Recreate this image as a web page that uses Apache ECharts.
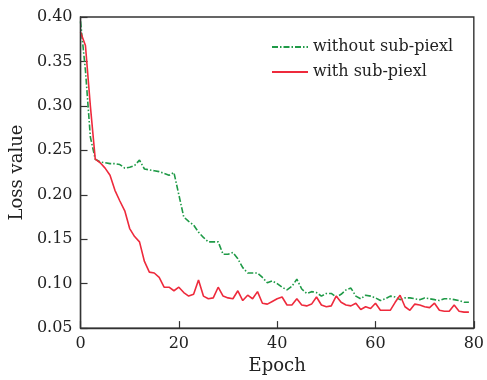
<!DOCTYPE html>
<html>
<head>
<meta charset="utf-8">
<script src="https://cdn.jsdelivr.net/npm/echarts@6/dist/echarts.min.js"></script>
<style>html,body{margin:0;padding:0;background:#fff}#c{width:487px;height:380px}</style>
</head>
<body>
<div id="c"></div>
<script>
const epochs = Array.from({length: 80}, (_, i) => i);
const withoutSub = [0.395,0.34,0.265,0.240,0.237,0.236,0.235,0.235,0.234,0.230,
0.231,0.233,0.239,0.229,0.228,0.227,0.226,0.224,0.222,0.225,
0.200,0.175,0.170,0.166,0.158,0.152,0.147,0.147,0.147,0.133,
0.133,0.135,0.128,0.118,0.112,0.112,0.112,0.107,0.101,0.103,
0.100,0.096,0.093,0.097,0.105,0.094,0.089,0.091,0.090,0.086,
0.089,0.089,0.085,0.088,0.093,0.095,0.086,0.083,0.087,0.086,
0.084,0.081,0.083,0.086,0.085,0.082,0.084,0.084,0.083,0.082,
0.084,0.083,0.082,0.081,0.083,0.083,0.082,0.081,0.079,0.079];
const withSub = [0.383,0.368,0.300,0.240,0.236,0.230,0.222,0.205,0.193,0.182,
0.162,0.153,0.147,0.125,0.113,0.112,0.107,0.096,0.096,0.092,
0.096,0.090,0.086,0.088,0.104,0.086,0.083,0.084,0.096,0.086,
0.084,0.083,0.092,0.081,0.087,0.083,0.091,0.078,0.077,0.080,
0.083,0.085,0.076,0.076,0.083,0.076,0.075,0.077,0.085,0.076,
0.074,0.075,0.086,0.079,0.076,0.075,0.078,0.071,0.074,0.072,
0.078,0.070,0.070,0.070,0.079,0.087,0.074,0.070,0.077,0.076,
0.074,0.073,0.078,0.070,0.069,0.069,0.076,0.069,0.068,0.068];
const seriesNames = ['without sub-piexl', 'with sub-piexl'];
const xTitle = 'Epoch';
const yTitle = 'Loss value';

const font = 'DejaVu Serif';
const axisColor = '#333';
const chart = echarts.init(document.getElementById('c'), null, {renderer: 'canvas'});
chart.setOption({
  animation: false,
  backgroundColor: '#fff',
  grid: {left: 79, right: 11, top: 17, bottom: 47, show: true, borderColor: axisColor, borderWidth: 1.4, backgroundColor: 'rgba(0,0,0,0)', z: 10},
  legend: {
    left: 266, top: 34, orient: 'vertical', itemWidth: 36, itemHeight: 14, itemGap: 9,
    itemStyle: {opacity: 0},
    textStyle: {fontFamily: font, fontSize: 16, color: '#222', lineHeight: 16},
    data: seriesNames
  },
  xAxis: {
    type: 'value', min: 0, max: 80, interval: 20,
    name: xTitle, nameLocation: 'middle', nameGap: 24,
    nameTextStyle: {fontFamily: font, fontSize: 18, color: '#222'},
    axisLine: {show: true, onZero: false, lineStyle: {color: axisColor, width: 1.3}},
    axisTick: {inside: true, length: 7, lineStyle: {color: axisColor, width: 1.2}},
    axisLabel: {fontFamily: font, fontSize: 16, color: '#222', margin: 8},
    splitLine: {show: false}
  },
  yAxis: {
    type: 'value', min: 0.05, max: 0.40, interval: 0.05,
    name: yTitle, nameLocation: 'middle', nameGap: 52,
    nameTextStyle: {fontFamily: font, fontSize: 18, color: '#222'},
    axisLine: {show: true, onZero: false, lineStyle: {color: axisColor, width: 1.3}},
    axisTick: {inside: true, length: 7, lineStyle: {color: axisColor, width: 1.2}},
    axisLabel: {fontFamily: font, fontSize: 16, color: '#222', margin: 8, formatter: v => v.toFixed(2)},
    splitLine: {show: false}
  },
  series: [
    {name: seriesNames[0], type: 'line', symbol: 'none', data: epochs.map((e, i) => [e, withoutSub[i]]),
     lineStyle: {color: '#1f9a47', width: 1.6, type: [6, 2, 1.5, 2]}, itemStyle: {color: '#1f9a47'}, z: 2},
    {name: seriesNames[1], type: 'line', symbol: 'none', data: epochs.map((e, i) => [e, withSub[i]]),
     lineStyle: {color: '#ee2a3c', width: 1.6}, itemStyle: {color: '#ee2a3c'}, z: 3}
  ]
});
</script>
</body>
</html>
